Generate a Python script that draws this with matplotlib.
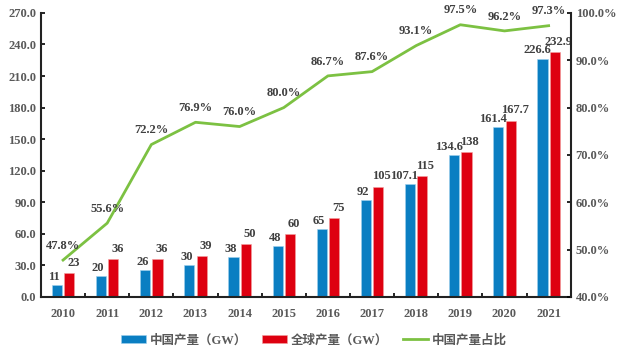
import matplotlib
matplotlib.use("Agg")
import matplotlib.pyplot as plt
import matplotlib.ticker as mticker
import numpy as np

plt.rcParams['font.family'] = ['Liberation Serif', 'Noto Sans CJK SC']
plt.rcParams['font.weight'] = 'bold'

years = ['2010', '2011', '2012', '2013', '2014', '2015',
         '2016', '2017', '2018', '2019', '2020', '2021']
china = [11, 20, 26, 30, 38, 48, 65, 92, 107.1, 134.6, 161.4, 226.6]
world = [23, 36, 36, 39, 50, 60, 75, 105, 115, 138, 167.7, 232.9]
share = [47.8, 55.6, 72.2, 76.9, 76.0, 80.0, 86.7, 87.6, 93.1, 97.5, 96.2, 97.3]

china_lbl = ['11', '20', '26', '30', '38', '48', '65', '92', '107.1', '134.6', '161.4', '226.6']
world_lbl = ['23', '36', '36', '39', '50', '60', '75', '105', '115', '138', '167.7', '232.9']

blue = '#0A7EC2'
red = '#DE0010'
green = '#7CC142'
grey = '#595959'

fig = plt.figure(figsize=(6.21, 3.49), dpi=100)
ax = fig.add_axes([0.066, 0.149, 0.853, 0.814])
ax2 = ax.twinx()

x = np.arange(len(years))
w = 0.23
ax.bar(x - 0.14, china, w, color=blue, edgecolor='#9FD0EE', linewidth=0.4, label='中国产量（GW）')
ax.bar(x + 0.14, world, w, color=red, edgecolor='#F3A0A0', linewidth=0.4, label='全球产量（GW）')

# long labels get nudged apart so the pairs don't collide
for i in range(len(years)):
    dx = -4 if len(china_lbl[i]) > 3 else -2
    ax.annotate(china_lbl[i], (x[i] - 0.14, china[i]), xytext=(dx, 1.5), textcoords='offset points',
                ha='center', va='bottom', fontsize=9, color='#404040')
    rx = 2 if len(world_lbl[i]) == 3 else 3
    ax.annotate(world_lbl[i], (x[i] + 0.14, world[i]), xytext=(rx, 3), textcoords='offset points',
                ha='center', va='bottom', fontsize=9, color='#404040')

ax2.plot(x, np.array(share) / 100, color=green, lw=2, label='中国产量占比')
for i in range(len(years)):
    ax2.annotate('%.1f%%' % share[i], (x[i], share[i] / 100), xytext=(0, 6), textcoords='offset points',
                 ha='center', va='bottom', fontsize=9, color='#404040')

ax.set_xlim(-0.5, len(years) - 0.5)
ax.set_ylim(0, 270)
ax.set_yticks(np.arange(0, 271, 30))
ax.yaxis.set_major_formatter(mticker.FormatStrFormatter('%.1f'))
ax2.set_ylim(0.4, 1.0)
ax2.set_yticks(np.arange(0.4, 1.001, 0.1))
ax2.yaxis.set_major_formatter(mticker.FuncFormatter(lambda v, p: '%.1f%%' % (v * 100)))

ax.set_xticks(x)
ax.set_xticklabels(years)
ax.set_xticks(np.arange(-0.5, len(years), 1), minor=True)
ax.tick_params(axis='x', which='major', length=0, pad=8, labelsize=9, labelcolor=grey)
ax.tick_params(axis='x', which='minor', length=3, direction='in', width=1.2)
ax.tick_params(axis='y', length=3, direction='in', width=1.2, labelsize=9, labelcolor=grey)
ax2.tick_params(axis='y', length=3, direction='in', width=1.2, labelsize=9, labelcolor=grey)

for a in (ax, ax2):
    a.spines['top'].set_visible(False)
    for s in ('left', 'right', 'bottom'):
        a.spines[s].set_linewidth(1.5)
        a.spines[s].set_color('#222222')
ax.spines['right'].set_visible(False)
ax2.spines['left'].set_visible(False)
ax2.spines['bottom'].set_visible(False)

h1, l1 = ax.get_legend_handles_labels()
h2, l2 = ax2.get_legend_handles_labels()
fig.legend(h1 + h2, l1 + l2, loc='lower center', bbox_to_anchor=(0.505, -0.025), ncol=3,
           frameon=False, fontsize=9, handlelength=2.0, handleheight=0.5, handletextpad=0.3,
           columnspacing=1.2, labelcolor=grey)

fig.savefig('out.png', dpi=100)
